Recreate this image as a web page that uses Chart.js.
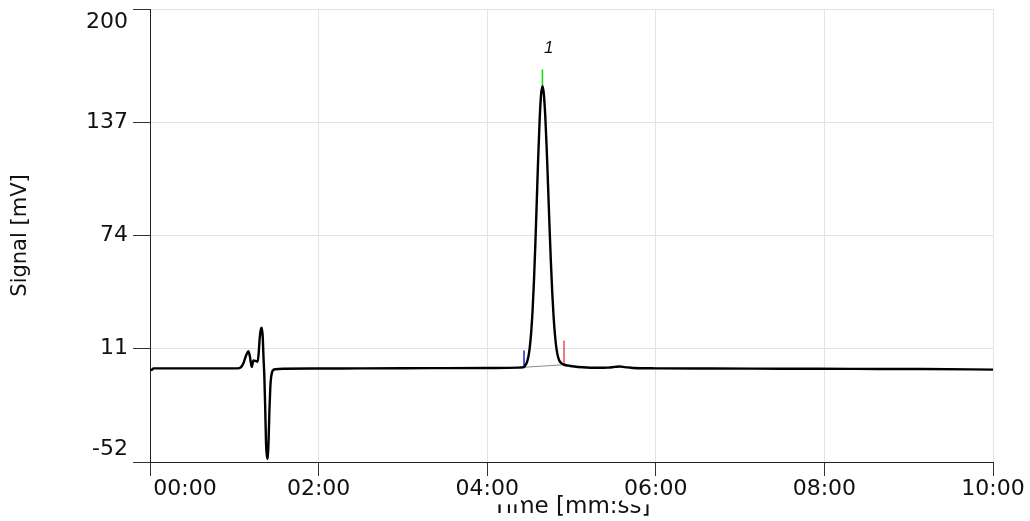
<!DOCTYPE html>
<html>
<head>
<meta charset="utf-8">
<title>Chromatogram</title>
<script src="https://cdn.jsdelivr.net/npm/chart.js@4.4.1/dist/chart.umd.min.js"></script>
<style>
    body { margin: 0; background: #ffffff; }
    #chromChart { display: block; }
</style>
</head>
<body>
<canvas id="chromChart" width="1030" height="521"></canvas>
<script>
// Axis ticks (time in seconds, signal in mV)
const timeTicks = [0, 120, 240, 360, 480, 600];
const signalTicks = [-52, 11, 74, 137, 200];

// Detector trace
const traceTime = [
    0, 1.6, 2.4, 20, 40, 62, 64.5, 66.5, 68.5, 70, 71.2, 72.4, 73.6, 75.5, 76.6,
    77.3, 78.1, 78.8, 79.5, 80.2, 80.8, 81.4, 82, 82.6, 83.2, 83.8, 84.4, 85, 85.6,
    86.2, 87.4, 89.3, 95, 120, 150, 200, 240, 262, 264.3, 266.3, 267.3, 268.3,
    269.3, 270.3, 271.3, 272.3, 273.3, 274.3, 275.3, 276.3, 277.3, 278.3, 279.3,
    280.3, 281.3, 282.3, 283.3, 284.3, 285.3, 286.3, 287.3, 288.3, 289.3, 290.3,
    291.3, 292.3, 293.3, 294.7, 298, 302, 308, 318, 326, 331, 334.3, 338, 344,
    360, 400, 450, 500, 550, 600
];
const traceSignal = [
    -0.7, -0.7, 0.1, 0.1, 0.1, 0.1, 0.6, 3.0, 7.5, 9.6, 6.3, 0.9, 4.5, 4.1, 3.8,
    8, 17, 21.5, 22.7, 18, 6, -4.8, -22, -42, -48.5, -50.3, -40, -23.4, -11,
    -4.8, -1.1, -0.4, -0.1, 0.0, 0.1, 0.2, 0.3, 0.5, 0.6, 0.9, 2.0, 3.6,
    6.6, 11.8, 20.1, 32.3, 49.1, 69.9, 93.5, 117.3, 137.9, 152.0, 157.0,
    152.8, 140.9, 123.2, 102.1, 80.2, 59.7, 42.2, 28.3, 18.1, 11.1, 6.8,
    4.5, 3.3, 2.6, 2.1, 1.6, 1.1, 0.7, 0.4, 0.5, 0.9, 1.1, 0.8, 0.3,
    0.1, 0.0, -0.1, -0.2, -0.3, -0.6
];

// Peak integration marks
const startMarkTime = [266.2, 266.2];
const startMarkSignal = [0.7, 10.0];
const apexMarkTime = [279.3, 279.3];
const apexMarkSignal = [157.2, 166.4];
const endMarkTime = [294.7, 294.7];
const endMarkSignal = [2.1, 15.6];
const peakBaseTime = [266.2, 294.7];
const peakBaseSignal = [0.7, 2.1];

// Peak number label
const peakNames = ["1"];
const peakNameTime = [283.8];
const peakNameSignal = [178.1];

function toPoints(xs, ys) {
    return xs.map((x, i) => ({ x: x, y: ys[i] }));
}

function formatTime(sec) {
    const m = Math.floor(sec / 60);
    const s = Math.round(sec % 60);
    return String(m).padStart(2, "0") + ":" + String(s).padStart(2, "0");
}

// draws the peak number above the apex
const peakNamePlugin = {
    id: "peakNames",
    afterDatasetsDraw(chart) {
        const ctx = chart.ctx;
        const xs = chart.scales.x;
        const ys = chart.scales.y;
        ctx.save();
        ctx.font = "italic 17px 'Liberation Sans', Arial, sans-serif";
        ctx.fillStyle = "#111111";
        ctx.textAlign = "center";
        ctx.textBaseline = "middle";
        peakNames.forEach((name, i) => {
            ctx.fillText(name, xs.getPixelForValue(peakNameTime[i]), ys.getPixelForValue(peakNameSignal[i]));
        });
        ctx.restore();
    }
};

const markStyle = { borderWidth: 1.6, pointRadius: 0, fill: false, order: 2 };

const ctx = document.getElementById("chromChart").getContext("2d");

new Chart(ctx, {
    type: "line",
    data: {
        datasets: [
            {
                data: toPoints(traceTime, traceSignal),
                borderColor: "#000000",
                borderWidth: 2.4,
                pointRadius: 0,
                cubicInterpolationMode: "monotone",
                order: 0
            },
            { ...markStyle, data: toPoints(peakBaseTime, peakBaseSignal), borderColor: "#8a8a8a", borderWidth: 1 },
            { ...markStyle, data: toPoints(startMarkTime, startMarkSignal), borderColor: "#1f2fe8" },
            { ...markStyle, data: toPoints(apexMarkTime, apexMarkSignal), borderColor: "#19d919" },
            { ...markStyle, data: toPoints(endMarkTime, endMarkSignal), borderColor: "#f05a5a" }
        ]
    },
    options: {
        responsive: false,
        animation: false,
        layout: { padding: { top: 9, right: 37, left: 0, bottom: 0 } },
        plugins: {
            legend: { display: false },
            tooltip: { enabled: false }
        },
        scales: {
            x: {
                type: "linear",
                min: 0,
                max: 600,
                afterBuildTicks: (scale) => { scale.ticks = timeTicks.map(v => ({ value: v })); },
                afterFit: (scale) => {
                    scale.height = 59;
                    scale.paddingLeft = 0;
                    scale.paddingRight = 0;
                },
                grid: { color: "#e3e3e3", tickColor: "#333333", tickLength: 14 },
                border: { color: "#222222", width: 1 },
                ticks: {
                    padding: 0,
                    maxRotation: 0,
                    autoSkip: false,
                    color: "#111111",
                    font: { family: "'DejaVu Sans'", size: 22, lineHeight: 1.2 },
                    showLabelBackdrop: true,
                    backdropColor: "#ffffff",
                    backdropPadding: { top: 0, bottom: 2, left: 2, right: 2 },
                    // first label sits to the right of its tick
                    callback: (value) => value === 0 ? "          " + formatTime(value) : formatTime(value)
                },
                title: {
                    display: true,
                    text: "Time [mm:ss]",
                    color: "#111111",
                    font: { family: "'DejaVu Sans'", size: 23, lineHeight: 1.2 },
                    padding: { top: 0, bottom: 0 }
                }
            },
            y: {
                min: -52,
                max: 200,
                afterBuildTicks: (scale) => { scale.ticks = signalTicks.map(v => ({ value: v })); },
                afterFit: (scale) => {
                    scale.width = 150;
                    scale.paddingTop = 0;
                    scale.paddingBottom = 0;
                },
                grid: { color: "#e3e3e3", tickColor: "#333333", tickLength: 17 },
                border: { color: "#222222", width: 1 },
                ticks: {
                    padding: 5,
                    color: "#111111",
                    font: { family: "'DejaVu Sans'", size: 22, lineHeight: 1.2 },
                    // end labels are pushed inside the axis range
                    callback: (value) => {
                        if (value === signalTicks[signalTicks.length - 1]) return ["", String(value)];
                        if (value === signalTicks[0]) return [String(value), ""];
                        return String(value);
                    }
                },
                title: {
                    display: true,
                    text: "Signal [mV]",
                    color: "#111111",
                    font: { family: "'DejaVu Sans'", size: 21, lineHeight: 1.2 },
                    padding: { top: 8, bottom: 0 }
                }
            }
        }
    },
    plugins: [peakNamePlugin]
});
</script>
</body>
</html>
